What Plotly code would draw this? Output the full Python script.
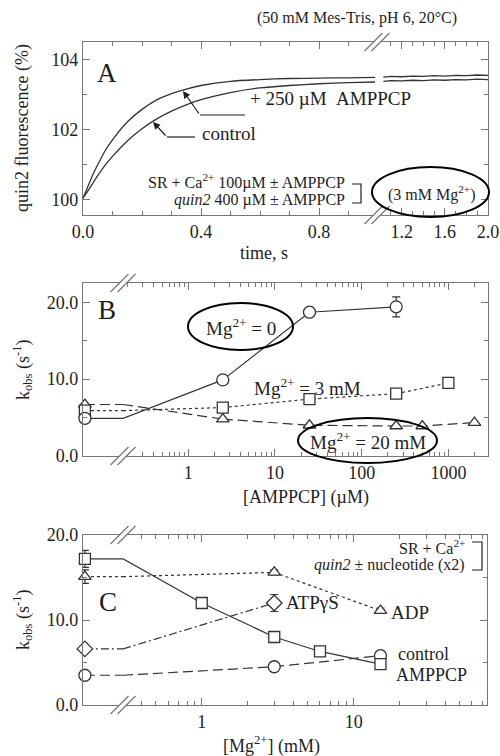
import plotly.graph_objects as go

# ---- data ------------------------------------------------------------------

# Panel A: quin2 fluorescence (%) vs time (s), before and after the axis break
t_fast = [0, 0.01, 0.02, 0.035, 0.05, 0.075, 0.1, 0.15, 0.2, 0.25, 0.3, 0.35,
          0.4, 0.5, 0.6, 0.7, 0.8, 0.9, 0.99]
amppcp_fast = [100.05, 100.25, 100.45, 100.75, 101.0, 101.4, 101.71, 102.22, 102.58,
               102.85, 103.03, 103.16, 103.26, 103.38, 103.43, 103.46, 103.47, 103.48, 103.49]
control_fast = [100.05, 100.17, 100.3, 100.5, 100.69, 100.99, 101.24, 101.68, 102.03,
                102.31, 102.53, 102.71, 102.86, 103.06, 103.19, 103.26, 103.31, 103.34, 103.36]
t_slow = [1.03, 1.1, 1.2, 1.3, 1.4, 1.5, 1.6, 1.7, 1.8, 1.9, 2.0]
amppcp_slow = [103.50, 103.52, 103.51, 103.53, 103.52, 103.54, 103.53, 103.55, 103.54, 103.56, 103.55]
control_slow = [103.38, 103.40, 103.39, 103.41, 103.40, 103.42, 103.41, 103.43, 103.42, 103.44, 103.43]

# Panel B: kobs (s-1) vs [AMPPCP] (uM); the *_zero value is at [AMPPCP] = 0
mg0_x = [2.5, 25, 250]
mg0_y = [9.9, 18.7, 19.4]
mg0_err = [0, 0, 1.3]
mg0_zero = 4.9
mg3_x = [2.5, 25, 250, 1000]
mg3_y = [6.3, 7.4, 8.1, 9.5]
mg3_err = [0, 0.7, 0, 0]
mg3_zero = 5.9
mg20_x = [2.5, 25, 250, 500, 2000]
mg20_y = [4.8, 4.0, 3.9, 3.9, 4.35]
mg20_zero = 6.7

# Panel C: kobs (s-1) vs [Mg2+] (mM); the *_zero value is at [Mg2+] = 0
amp_x = [1, 3, 6, 15]
amp_y = [12.0, 8.0, 6.3, 4.8]
amp_zero, amp_zero_err = 17.2, 1.0
ctl_x = [3, 15]
ctl_y = [4.5, 5.8]
ctl_zero = 3.5
atp_x = [3]
atp_y = [12.0]
atp_err = [1.0]
atp_zero = 6.6
adp_x = [3, 15]
adp_y = [15.6, 11.1]
adp_err = [0.3, 0.3]
adp_zero, adp_zero_err = 15.1, 0.8

# ---- styling ------------------------------------------------------------------

W, H = 500, 756
FONT = "Liberation Serif"
INK = "#1e1e1e"
FRAME = "#777777"
LINE = "#333333"

ZERO_RANGE = [-0.05, 1.0]
B_LOG = [-0.753, 3.457]
C_LOG = [-0.518, 1.877]


def px(x):
    return x / W


def py(y):
    return 1 - y / H


fig = go.Figure()


def series(xa, ya, x, y, dash, symbol, size, err=None):
    fig.add_trace(go.Scatter(
        x=x, y=y, xaxis=xa, yaxis=ya, mode="lines+markers",
        line=dict(color=LINE, width=1.2, dash=dash),
        marker=dict(symbol=symbol, size=size, color="white",
                    line=dict(color=LINE, width=1.3)),
        error_y=dict(type="data", array=err, visible=err is not None,
                     color=LINE, thickness=1.2, width=4),
        cliponaxis=False, showlegend=False, hoverinfo="skip",
    ))


def zero_point(xa, ya, lx, ya_log, value, first_x, first_y, dash, symbol, size,
               log_lo, err=None):
    # connector through the break: flat on the zero segment, then on to the first point
    fig.add_trace(go.Scatter(
        x=[0, ZERO_RANGE[1]], y=[value, value], xaxis=xa, yaxis=ya, mode="lines",
        line=dict(color=LINE, width=1.2, dash=dash), showlegend=False, hoverinfo="skip"))
    fig.add_trace(go.Scatter(
        x=[10 ** log_lo, first_x], y=[value, first_y], xaxis=lx, yaxis=ya_log,
        mode="lines", line=dict(color=LINE, width=1.2, dash=dash),
        showlegend=False, hoverinfo="skip"))
    series(xa, ya, [0], [value], dash, symbol, size,
           err=None if err is None else [err])


# Panel A traces
for xs, ys in ((t_fast, amppcp_fast), (t_fast, control_fast)):
    fig.add_trace(go.Scatter(x=xs, y=ys, xaxis="x", yaxis="y", mode="lines",
                             line=dict(color=LINE, width=1.3, shape="spline", smoothing=0.6),
                             showlegend=False, hoverinfo="skip"))
for xs, ys in ((t_slow, amppcp_slow), (t_slow, control_slow)):
    fig.add_trace(go.Scatter(x=xs, y=ys, xaxis="x2", yaxis="y2", mode="lines",
                             line=dict(color=LINE, width=1.3),
                             showlegend=False, hoverinfo="skip"))

# Panel B traces
DASH_LONG = "10px,5px"
DASH_DOT = "8px,3px,2px,3px"
zero_point("x3", "y3", "x4", "y4", mg20_zero, mg20_x[0], mg20_y[0], DASH_LONG, "triangle-up", 11, B_LOG[0])
zero_point("x3", "y3", "x4", "y4", mg3_zero, mg3_x[0], mg3_y[0], "dot", "square", 11, B_LOG[0])
zero_point("x3", "y3", "x4", "y4", mg0_zero, mg0_x[0], mg0_y[0], "solid", "circle", 12, B_LOG[0])
series("x4", "y4", mg20_x, mg20_y, DASH_LONG, "triangle-up", 11)
series("x4", "y4", mg3_x, mg3_y, "dot", "square", 11, err=mg3_err)
series("x4", "y4", mg0_x, mg0_y, "solid", "circle", 12, err=mg0_err)

# Panel C traces
zero_point("x5", "y5", "x6", "y6", ctl_zero, ctl_x[0], ctl_y[0], DASH_LONG, "circle", 12, C_LOG[0])
zero_point("x5", "y5", "x6", "y6", atp_zero, atp_x[0], atp_y[0], DASH_DOT, "diamond", 12, C_LOG[0])
zero_point("x5", "y5", "x6", "y6", adp_zero, adp_x[0], adp_y[0], "dot", "triangle-up", 11, C_LOG[0], err=adp_zero_err)
zero_point("x5", "y5", "x6", "y6", amp_zero, amp_x[0], amp_y[0], "solid", "square", 11, C_LOG[0], err=amp_zero_err)
series("x6", "y6", ctl_x, ctl_y, DASH_LONG, "circle", 12)
series("x6", "y6", atp_x, atp_y, DASH_DOT, "diamond", 12, err=atp_err)
series("x6", "y6", adp_x, adp_y, "dot", "triangle-up", 11, err=adp_err)
series("x6", "y6", amp_x, amp_y, "solid", "square", 11)

# ---- axes -------------------------------------------------------------------------

TICKFONT = dict(family=FONT, size=18, color=INK)


def xaxis(x0, x1, anchor, rng, tickvals=None, ticktext=None, minor=None, typ="linear", ticks=True):
    ax = dict(domain=[px(x0), px(x1)], anchor=anchor, range=rng, type=typ, automargin=False,
              showline=True, linecolor=FRAME, linewidth=1.3, mirror="ticks" if ticks else True,
              showgrid=False, zeroline=False, tickfont=TICKFONT, fixedrange=True)
    if ticks:
        ax.update(ticks="inside", ticklen=7, tickwidth=1.2, tickcolor=FRAME,
                  tickmode="array", tickvals=tickvals, ticktext=ticktext,
                  minor=dict(ticks="inside", ticklen=4, tickwidth=1, tickcolor=FRAME,
                             tickmode="array", tickvals=minor, showgrid=False))
    else:
        ax.update(ticks="", showticklabels=False)
    return ax


def yaxis(y0, y1, anchor, rng, side, tickvals, ticktext, minor, labels):
    return dict(domain=[py(y1), py(y0)], anchor=anchor, range=rng, side=side, automargin=False,
                showline=True, linecolor=FRAME, linewidth=1.3, showgrid=False,
                zeroline=False, ticks="inside", ticklen=7, tickwidth=1.2, tickcolor=FRAME,
                tickmode="array", tickvals=tickvals, ticktext=ticktext,
                showticklabels=labels, tickfont=TICKFONT, fixedrange=True,
                minor=dict(ticks="inside", ticklen=4, tickwidth=1, tickcolor=FRAME,
                           tickmode="array", tickvals=minor, showgrid=False))


log_minor = [m * 10 ** e for e in range(-1, 4) for m in range(2, 10)]
A_Y = [99.57, 104.5]
K_Y = [0, 22.5]
C_Y = [0, 20]

fig.update_layout(
    xaxis=xaxis(83, 378, "y", [0, 1.0], [0, 0.4, 0.8], ["0.0", "0.4", "0.8"],
                [0.1, 0.2, 0.3, 0.5, 0.6, 0.7, 0.9]),
    xaxis2=xaxis(378, 488, "y2", [0.98, 2.0], [1.2, 1.6, 2.0], ["1.2", "1.6", "2.0"],
                 [1.1, 1.3, 1.4, 1.5, 1.7, 1.8, 1.9]),
    yaxis=yaxis(42, 215, "x", A_Y, "left", [100, 102, 104], ["100", "102", "104"], [101, 103], True),
    yaxis2=yaxis(42, 215, "x2", A_Y, "right", [100, 102, 104], None, [101, 103], False),
    xaxis3=xaxis(83, 123, "y3", ZERO_RANGE, ticks=False),
    xaxis4=xaxis(123, 488, "y4", B_LOG, [1, 10, 100, 1000], ["1", "10", "100", "1000"],
                 log_minor, typ="log"),
    yaxis3=yaxis(283, 456, "x3", K_Y, "left", [0, 10, 20], ["0.0", "10.0", "20.0"], [5, 15], True),
    yaxis4=yaxis(283, 456, "x4", K_Y, "right", [0, 10, 20], None, [5, 15], False),
    xaxis5=xaxis(83, 123, "y5", ZERO_RANGE, ticks=False),
    xaxis6=xaxis(123, 487, "y6", C_LOG, [1, 10], ["1", "10"], log_minor, typ="log"),
    yaxis5=yaxis(535, 705, "x5", C_Y, "left", [0, 10, 20], ["0.0", "10.0", "20.0"], [5, 15], True),
    yaxis6=yaxis(535, 705, "x6", C_Y, "right", [0, 10, 20], None, [5, 15], False),
    width=W, height=H, margin=dict(l=0, r=0, t=0, b=0, autoexpand=False),
    paper_bgcolor="white", plot_bgcolor="white",
    font=dict(family=FONT, color=INK),
    showlegend=False,
)

# ---- decorations: axis breaks, ellipses, brackets, arrows ----------------------------

shapes = []


def break_mark(cx, cy):
    s, d = 9, 3.5
    shapes.append(dict(type="path", xref="paper", yref="paper", line=dict(width=0),
                       fillcolor="white",
                       path=f"M {px(cx - s - d)} {py(cy + s)} L {px(cx + s - d)} {py(cy - s)} "
                            f"L {px(cx + s + d)} {py(cy - s)} L {px(cx - s + d)} {py(cy + s)} Z"))
    for off in (-d, d):
        shapes.append(dict(type="line", xref="paper", yref="paper",
                           x0=px(cx - s + off), y0=py(cy + s), x1=px(cx + s + off), y1=py(cy - s),
                           line=dict(color=FRAME, width=1.2)))


for cx, cy in ((377, 42), (377, 215), (123, 283), (123, 456), (123, 535), (123, 705)):
    break_mark(cx, cy)


def ellipse(x0, y0, x1, y1):
    shapes.append(dict(type="circle", xref="paper", yref="paper",
                       x0=px(x0), x1=px(x1), y0=py(y1), y1=py(y0),
                       line=dict(color="black", width=2)))


ellipse(372, 167, 489, 217)
ellipse(188, 303, 293, 350)
ellipse(298, 418, 437, 463)


def polyline(points, width=1.2):
    path = "M " + " L ".join(f"{px(x)} {py(y)}" for x, y in points)
    shapes.append(dict(type="path", xref="paper", yref="paper", path=path,
                       line=dict(color=INK, width=width)))


polyline([(352, 184), (361, 184), (361, 203), (352, 203)])
polyline([(472, 542), (482, 542), (482, 570), (472, 570)])
polyline([(200, 115), (245, 115)])
polyline([(167, 137), (195, 137)])

annotations = []


def text(x, y, s, size=19, anchor="center", angle=0):
    annotations.append(dict(x=px(x), y=py(y), xref="paper", yref="paper", text=s,
                            showarrow=False, xanchor=anchor, yanchor="middle",
                            textangle=angle, font=dict(family=FONT, size=size, color=INK)))


def arrow(hx, hy, tx, ty):
    annotations.append(dict(x=px(hx), y=py(hy), xref="paper", yref="paper", text="",
                            showarrow=True, ax=tx - hx, ay=ty - hy, arrowhead=2,
                            arrowsize=1.2, arrowwidth=1.2, arrowcolor=INK, standoff=0))


# Panel A
text(357, 18, "(50 mM Mes-Tris, pH 6, 20°C)", 16)
text(107, 73, "A", 27)
text(248, 98, "+ 250 µM\u00a0\u00a0AMPPCP", 19, "left")
text(200, 134, "control", 19, "left")
text(347, 182, "SR + Ca<sup>2+</sup> 100µM ± AMPPCP", 16, "right")
text(347, 200, "<i>quin2</i> 400 µM ± AMPPCP", 16, "right")
text(431, 193, "(3 mM Mg<sup>2+</sup>)", 16)
arrow(183, 91, 200, 115)
arrow(153, 122, 167, 137)
text(264, 253, "time, s", 18)
text(22, 128, "quin2 fluorescence (%)", 18, angle=-90)

# Panel B
text(107, 310, "B", 27)
text(241, 327, "Mg<sup>2+</sup> = 0", 19)
text(307, 387, "Mg<sup>2+</sup> = 3 mM", 19)
text(368, 441, "Mg<sup>2+</sup> = 20 mM", 19)
text(306, 497, "[AMPPCP] (µM)", 18)
text(22, 370, "k<sub>obs</sub> (s<sup>-1</sup>)", 18, angle=-90)

# Panel C
text(108, 602, "C", 27)
text(284, 602, "ATPγS", 19, "left")
text(389, 612, "ADP", 19, "left")
text(396, 654, "control", 18, "left")
text(394, 675, "AMPPCP", 18, "left")
text(467, 547, "SR + Ca<sup>2+</sup>", 16, "right")
text(467, 565, "<i>quin2</i> ± nucleotide (x2)", 16, "right")
text(271, 745, "[Mg<sup>2+</sup>] (mM)", 18)
text(22, 620, "k<sub>obs</sub> (s<sup>-1</sup>)", 18, angle=-90)

fig.update_layout(shapes=shapes, annotations=annotations)

# the page's default 8px body margin would shift the fixed-size figure
fig.write_html("out.html", config={"displayModeBar": False},
               post_script="document.body.style.margin='0px';")
